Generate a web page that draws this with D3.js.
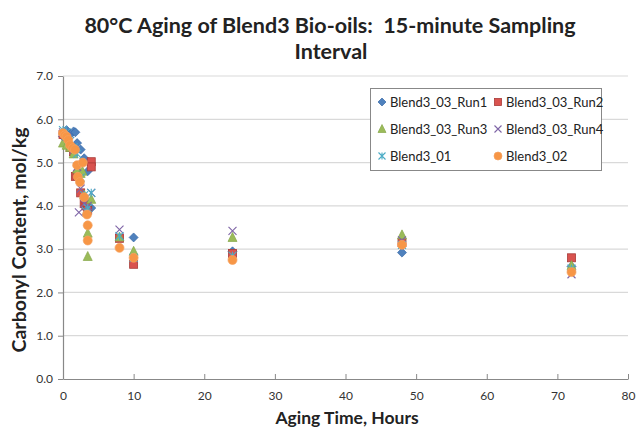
<!DOCTYPE html>
<html><head><meta charset="utf-8">
<script src="https://cdn.jsdelivr.net/npm/d3@7"></script>
<style>body{margin:0;background:#fff}svg{display:block;font-family:Lato,"Open Sans",sans-serif}</style>
</head><body><svg id="c" width="636" height="429"></svg>
<script>
const seriesNames = ["Blend3_03_Run1","Blend3_03_Run2","Blend3_03_Run3","Blend3_03_Run4","Blend3_01","Blend3_02"];
const run1T = [0,0.5,1,1.5,1.75,2,2.5,3,3.5,4,10,24,48,72];
const run1V = [5.6,5.75,5.65,5.72,5.7,5.45,5.3,5.1,4.8,3.95,3.27,2.95,2.92,2.6];
const run2T = [0,0.5,1,1.5,1.75,2,2.5,3,3.25,3.5,4,4,8,10,24,48,72];
const run2V = [5.65,5.55,5.35,5.25,4.68,4.7,4.3,4.05,4.0,3.9,5.02,4.9,3.25,2.65,2.9,3.15,2.8];
const run3T = [0,0.5,1,1.5,2,2.5,2.75,3,3.5,3.5,4,8,10,24,48,72];
const run3V = [5.45,5.4,5.35,5.2,4.85,4.75,4.8,4.25,3.37,2.83,4.15,3.28,2.95,3.27,3.33,2.62];
const run4T = [0,0.5,1,1.5,2,2.25,2.5,3,3.5,4,8,24,48,72];
const run4V = [5.7,5.6,5.5,5.3,4.9,3.85,4.4,4.05,4.0,4.3,3.45,3.42,3.2,2.42];
const b01T = [0,0.5,1,1.5,2,2.5,3,3.25,3.5,4,8,10,24,48,72];
const b01V = [5.75,5.7,5.5,5.35,5.2,4.65,4.25,3.88,3.95,4.3,3.3,2.8,2.85,3.1,2.55];
const b02T = [0,0.25,0.5,0.75,1,1.4,1.7,2,2.1,2.4,2.8,3.0,3.4,3.5,3.5,8,10,24,48,72];
const b02V = [5.68,5.63,5.6,5.52,5.4,5.33,5.3,4.94,4.67,4.55,5.0,4.2,3.8,3.55,3.2,3.03,2.8,2.75,3.1,2.47];
const xTicks = [0,10,20,30,40,50,60,70,80];
const yTicks = [0,1,2,3,4,5,6,7];

const series = [
 {name:seriesNames[0],t:run1T,v:run1V,shape:"diamond",fill:"#4F81BD",stroke:"#3a6aa8"},
 {name:seriesNames[1],t:run2T,v:run2V,shape:"square",fill:"#D9534F",stroke:"#a83a37"},
 {name:seriesNames[2],t:run3T,v:run3V,shape:"triangle",fill:"#9BBB59",stroke:"#86a84a"},
 {name:seriesNames[3],t:run4T,v:run4V,shape:"x",fill:"none",stroke:"#7E64A6"},
 {name:seriesNames[4],t:b01T,v:b01V,shape:"star",fill:"none",stroke:"#4BACC6"},
 {name:seriesNames[5],t:b02T,v:b02V,shape:"circle",fill:"#F79646",stroke:"#f5a262"}
];

const svg = d3.select("#c");
const L=63,R=628,T=76,B=379;
const x = d3.scaleLinear().domain([0,80]).range([L,R]);
const y = d3.scaleLinear().domain([0,7]).range([B,T]);

svg.append("g").selectAll("line").data(yTicks.filter(d=>d>0)).join("line")
 .attr("x1",L).attr("x2",R).attr("y1",d=>y(d)).attr("y2",d=>y(d))
 .attr("stroke","#d9d9d9").attr("stroke-width",1.2);

const xa = svg.append("g").attr("transform",`translate(0,${B})`)
 .call(d3.axisBottom(x).tickValues(xTicks).tickFormat(d3.format("d")).tickSizeInner(-5).tickSizeOuter(0).tickPadding(12));
const ya = svg.append("g").attr("transform",`translate(${L},0)`)
 .call(d3.axisLeft(y).tickValues(yTicks).tickFormat(d3.format(".1f")).tickSizeInner(5).tickSizeOuter(0).tickPadding(5));
[xa,ya].forEach(a=>{
 a.select(".domain").attr("stroke","#888").attr("stroke-width",1.2);
 a.selectAll(".tick line").attr("stroke","#888");
 a.selectAll("text").attr("font-size",12).attr("fill","#333").attr("font-family","Lato, 'Open Sans', sans-serif");
});

function drawMarker(g,s,cx,cy,sz){
 const r=sz/2;
 if(s.shape==="diamond") g.append("path").attr("d",`M${cx},${cy-r-0.5}L${cx+r+0.5},${cy}L${cx},${cy+r+0.5}L${cx-r-0.5},${cy}Z`).attr("fill",s.fill).attr("stroke",s.stroke).attr("stroke-width",0.7);
 else if(s.shape==="square") g.append("rect").attr("x",cx-r).attr("y",cy-r).attr("width",sz).attr("height",sz).attr("fill",s.fill).attr("stroke",s.stroke).attr("stroke-width",0.8);
 else if(s.shape==="triangle") g.append("path").attr("d",`M${cx},${cy-r-1}L${cx+r+0.5},${cy+r}L${cx-r-0.5},${cy+r}Z`).attr("fill",s.fill).attr("stroke",s.stroke).attr("stroke-width",0.7);
 else if(s.shape==="x") g.append("path").attr("d",`M${cx-r},${cy-r}L${cx+r},${cy+r}M${cx-r},${cy+r}L${cx+r},${cy-r}`).attr("stroke",s.stroke).attr("stroke-width",1.1).attr("fill","none");
 else if(s.shape==="star") g.append("path").attr("d",`M${cx-r},${cy-r}L${cx+r},${cy+r}M${cx-r},${cy+r}L${cx+r},${cy-r}M${cx},${cy-r}L${cx},${cy+r}`).attr("stroke",s.stroke).attr("stroke-width",1.1).attr("fill","none");
 else g.append("circle").attr("cx",cx).attr("cy",cy).attr("r",r+0.5).attr("fill",s.fill).attr("stroke",s.stroke).attr("stroke-width",0.7);
}

const pts = svg.append("g");
series.forEach(s=>{
 s.t.forEach((t,i)=>drawMarker(pts,s,x(t),y(s.v[i]),8));
});

const lg = svg.append("g");
lg.append("rect").attr("x",370.5).attr("y",88.5).attr("width",231).attr("height",82)
 .attr("fill","#fff").attr("stroke","#888").attr("stroke-width",1);
series.forEach((s,i)=>{
 const col=i%2,row=Math.floor(i/2);
 const mx = col?498:382, my = 102+row*27;
 drawMarker(lg,s,mx,my,7);
 lg.append("text").attr("x",mx+8).attr("y",my+4.5).attr("font-size",13).attr("fill","#222").text(s.name);
});

svg.append("text").attr("x",330).attr("y",33).attr("text-anchor","middle").attr("font-size",21.5).attr("font-weight","bold").attr("fill","#222")
 .attr("xml:space","preserve").style("white-space","pre")
 .text("80°C Aging of Blend3 Bio-oils:\u00a0 15-minute Sampling");
svg.append("text").attr("x",331).attr("y",59).attr("text-anchor","middle").attr("font-size",21.5).attr("font-weight","bold").attr("fill","#222")
 .text("Interval");
svg.append("text").attr("x",347).attr("y",424).attr("text-anchor","middle").attr("font-size",17.5).attr("font-weight","bold").attr("fill","#222")
 .text("Aging Time, Hours");
svg.append("text").attr("transform","translate(26,240) rotate(-90)").attr("text-anchor","middle").attr("font-size",19.5).attr("font-weight","bold").attr("fill","#222")
 .text("Carbonyl Content, mol/kg");
</script></body></html>
